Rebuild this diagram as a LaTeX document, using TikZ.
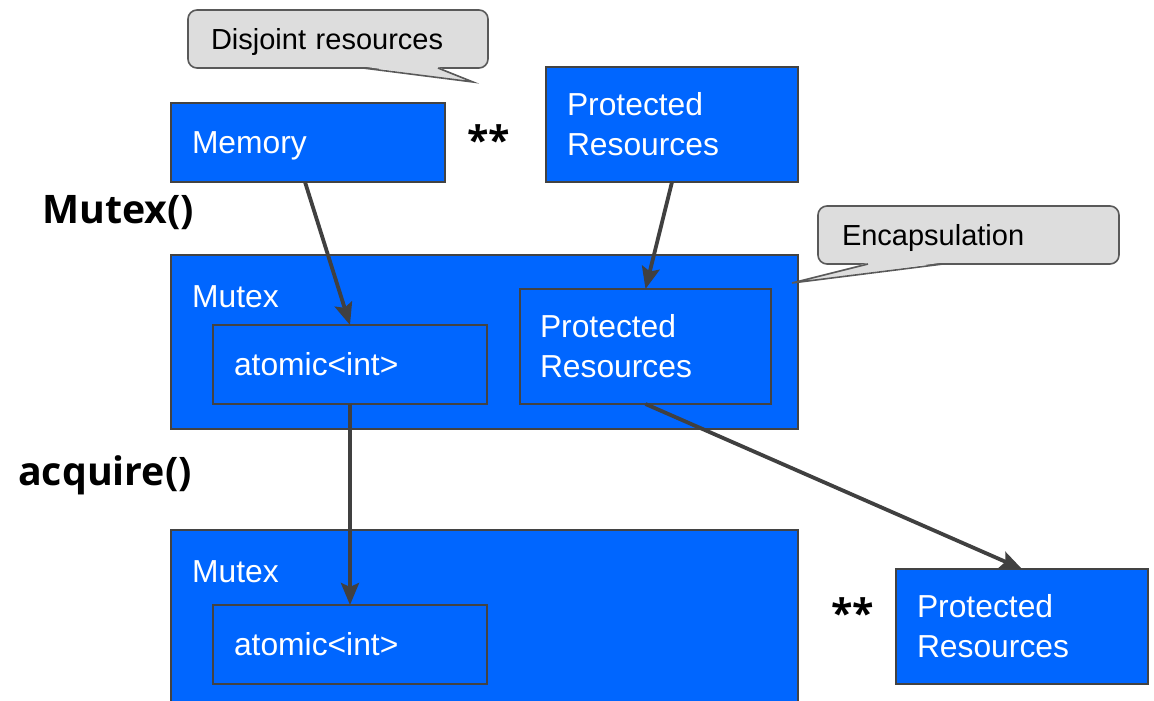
\documentclass[tikz,border=0pt]{standalone}
\usepackage{fontspec}
\setmainfont{Liberation Sans}
\newfontfamily\headfont{Open Sans}
\usetikzlibrary{arrows.meta}
\definecolor{boxblue}{HTML}{0066FF}
\definecolor{boxline}{HTML}{434343}
\definecolor{bubblefill}{HTML}{DDDDDD}
\definecolor{bubbleline}{HTML}{595959}
\definecolor{arrowgray}{HTML}{404040}
\begin{document}
\begin{tikzpicture}[x=1pt,y=-1pt,
 bluebox/.style={draw=boxline, fill=boxblue, line width=1.8pt, anchor=north west, inner sep=0pt, outer sep=0pt, text=white, font=\fontsize{31.8}{40}\selectfont, align=left},
 boxlabel/.style={text=white, font=\fontsize{31.8}{40}\selectfont, anchor=base west, inner sep=0pt},
 bubble/.style={draw=bubbleline, fill=bubblefill, line width=1.6pt, rounded corners=9pt, anchor=north west, inner sep=0pt, outer sep=0pt, font=\fontsize{29}{34}\selectfont, align=left, text depth=0pt},
 tailline/.style={draw=bubbleline, line width=1.6pt, line join=miter},
 heading/.style={font=\headfont\bfseries\fontsize{39.3}{45}\selectfont, anchor=base west, inner sep=0pt},
 link/.style={draw=arrowgray, line width=3.8pt, -{Stealth[length=22pt,width=18pt,inset=4pt]}},
]
\fill[white] (0,0) rectangle (1154,701);
\clip (0,0) rectangle (1154,701);

% blue boxes
\node[bluebox, minimum width=274pt, minimum height=79pt, text width=232pt, inner xsep=21pt, text depth=0pt] (mem) at (171,103) {Memory};
\node[bluebox, minimum width=252pt, minimum height=115pt, text width=210pt, inner xsep=21pt] (prtop) at (546,67) {Protected\\Resources};
\node[bluebox, minimum width=627pt, minimum height=174pt] (mutex1) at (171,255) {};
\node[bluebox, minimum width=274pt, minimum height=79pt, text width=232pt, inner xsep=21pt] (atom1) at (213,325) {atomic<int>};
\node[bluebox, minimum width=251pt, minimum height=115pt, text width=211pt, inner xsep=20pt] (prin) at (520,289) {Protected\\Resources};
\node[bluebox, minimum width=627pt, minimum height=190pt] (mutex2) at (171,530) {};
\node[bluebox, minimum width=274pt, minimum height=79pt, text width=232pt, inner xsep=21pt] (atom2) at (213,605) {atomic<int>};
\node[bluebox, minimum width=252pt, minimum height=115pt, text width=210pt, inner xsep=21pt] (prright) at (896,569) {Protected\\Resources};

\node[boxlabel] (mlab1) at (192,307) {Mutex};
\node[boxlabel] (mlab2) at (192,582) {Mutex};

% headings
\node[heading] (hmutex) at (42,223) {Mutex()};
\node[heading] (hacq) at (18,485) {acquire()};
\node[heading] (star1) at (467,154) {**};
\node[heading] (star2) at (831,627) {**};

% callouts
\node[bubble, minimum width=300pt, minimum height=58pt, text width=254pt, inner xsep=23pt] (b1) at (188,10) {Disjoint resources};
\coordinate (b1tip) at (473,82);
\fill[bubblefill] (364,66.6) -- (b1tip) -- (437,66.6) -- cycle;
\draw[tailline] (363,68) -- (b1tip) -- (438,68);

\node[bubble, minimum width=301pt, minimum height=58pt, text width=253pt, inner xsep=24pt] (b2) at (818,206) {Encapsulation};
\coordinate (b2tip) at (792,283);
\fill[bubblefill] (942,262.6) -- (b2tip) -- (869,262.6) -- cycle;
\draw[tailline] (943,264) -- (b2tip) -- (868,264);

% arrows
\draw[link] ([xshift=-3pt]mem.south) -- (atom1.north);
\draw[link] (prtop.south) -- (prin.north);
\draw[link] (atom1.south) -- (atom2.north);
\draw[link] (prin.south) -- (prright.north);
\end{tikzpicture}
\end{document}
